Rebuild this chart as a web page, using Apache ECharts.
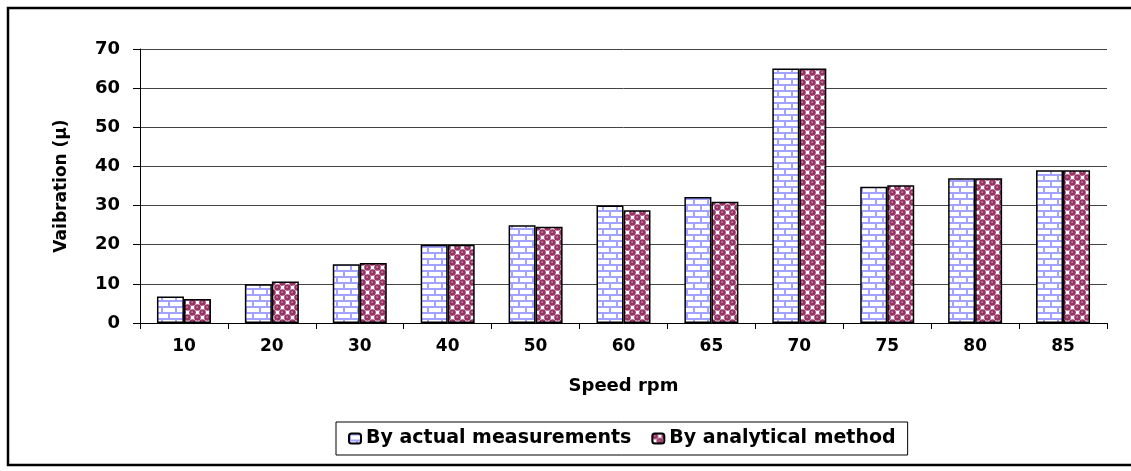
<!DOCTYPE html>
<html>
<head>
<meta charset="utf-8">
<script src="https://cdn.jsdelivr.net/npm/echarts@6/dist/echarts.min.js"></script>
<style>
html,body{margin:0;padding:0;background:#fff;}
#chart{width:1131px;height:471px;}
</style>
</head>
<body>
<div id="chart"></div>
<script>
const categories = ['10','20','30','40','50','60','65','70','75','80','85'];
const actualMeasurements = [6.8, 9.9, 15, 20, 25, 30, 32.2, 65, 34.8, 37, 39];
const analyticalMethod = [6.1, 10.6, 15.3, 20, 24.6, 28.8, 31, 65, 35.2, 37, 39];
const seriesNames = ['By actual measurements', 'By analytical method'];
const yTicks = { min: 0, max: 70, interval: 10 };

function brickPattern() {
  const c = document.createElement('canvas');
  c.width = 14; c.height = 12;
  const g = c.getContext('2d');
  g.fillStyle = '#ffffff'; g.fillRect(0,0,14,12);
  g.fillStyle = '#a3a3ff';
  g.fillRect(0,0,14,2);
  g.fillRect(0,6,14,2);
  g.fillRect(0,0,2,6);
  g.fillRect(7,6,2,6);
  return c;
}
function spherePattern() {
  const c = document.createElement('canvas');
  c.width = 10; c.height = 10;
  const g = c.getContext('2d');
  g.fillStyle = '#ffffff'; g.fillRect(0,0,10,10);
  g.fillStyle = '#993366';
  const pts = [[2.5,2.5],[7.5,7.5],[-2.5,7.5],[12.5,2.5],[7.5,-2.5],[2.5,12.5]];
  pts.forEach(p => { g.beginPath(); g.arc(p[0], p[1], 3.3, 0, Math.PI*2); g.fill(); });
  g.fillStyle = '#e9c6d6';
  g.fillRect(1.5,1.5,1.2,1.2);
  g.fillRect(6.5,6.5,1.2,1.2);
  return c;
}

const FONT = 'DejaVu Sans';
const chart = echarts.init(document.getElementById('chart'), null, {renderer:'canvas'});
chart.setOption({
  animation: false,
  backgroundColor: '#ffffff',
  textStyle: { fontFamily: FONT },
  graphic: [{
    type: 'rect', z: -10, silent: true,
    shape: { x: 8, y: 8, width: 1140, height: 457 },
    style: { fill: 'none', stroke: '#000', lineWidth: 2.5 }
  }],
  grid: { left: 140, right: 24, top: 49, bottom: 148 },
  legend: {
    data: seriesNames,
    left: 336, top: 422,
    orient: 'horizontal',
    itemWidth: 12, itemHeight: 10, itemGap: 20,
    padding: [7, 12],
    borderColor: '#000', borderWidth: 1,
    backgroundColor: '#fff',
    textStyle: { fontFamily: FONT, fontWeight: 'bold', fontSize: 19, color: '#000' }
  },
  xAxis: {
    type: 'category',
    data: categories,
    name: 'Speed rpm',
    nameLocation: 'middle',
    nameGap: 54,
    nameTextStyle: { fontFamily: FONT, fontWeight: 'bold', fontSize: 18, color: '#000' },
    axisLine: { lineStyle: { color: '#000', width: 1 } },
    axisTick: { show: true, length: 6, lineStyle: { color: '#000' } },
    axisLabel: { fontFamily: FONT, fontWeight: 'bold', fontSize: 17, color: '#000', margin: 15 }
  },
  yAxis: {
    type: 'value',
    min: yTicks.min, max: yTicks.max, interval: yTicks.interval,
    name: 'Vaibration (μ)',
    nameLocation: 'middle',
    nameGap: 70,
    nameTextStyle: { fontFamily: FONT, fontWeight: 'bold', fontSize: 17, color: '#000' },
    axisLine: { show: true, lineStyle: { color: '#000', width: 1 } },
    axisTick: { show: true, length: 7, lineStyle: { color: '#000' } },
    axisLabel: { fontFamily: FONT, fontWeight: 'bold', fontSize: 18, color: '#000', margin: 20 },
    splitLine: { show: true, lineStyle: { color: '#444', width: 1 } }
  },
  series: [
    {
      name: seriesNames[0], type: 'bar', data: actualMeasurements,
      barWidth: 27, barGap: '0%',
      itemStyle: { color: { image: brickPattern(), repeat: 'repeat' }, borderColor: '#000', borderWidth: 1.5 }
    },
    {
      name: seriesNames[1], type: 'bar', data: analyticalMethod,
      barWidth: 27, barGap: '0%',
      itemStyle: { color: { image: spherePattern(), repeat: 'repeat' }, borderColor: '#000', borderWidth: 1.5 }
    }
  ]
});
</script>
</body>
</html>
